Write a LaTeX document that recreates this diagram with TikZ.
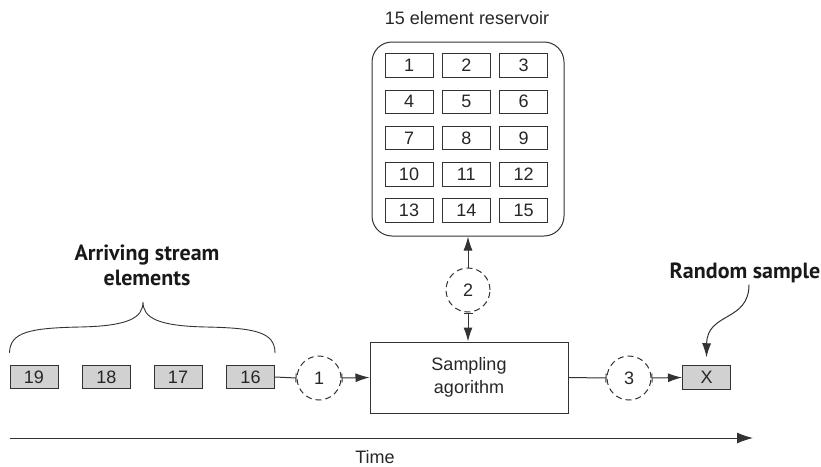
\documentclass[tikz,border=0pt]{standalone}
\usepackage{fontspec}
\setmainfont{Liberation Sans}
\newfontfamily\labelfont{PT Sans}
\usetikzlibrary{arrows.meta}
\begin{document}
\begin{tikzpicture}[x=1pt,y=-1pt,
  every node/.style={font=\fontsize{18}{23}\selectfont, text=black!85},
  cell/.style={draw=black!80, line width=1pt, minimum width=48pt, minimum height=23.5pt, inner sep=0pt},
  gcell/.style={cell, fill=black!18},
  numcircle/.style={draw=black!80, line width=1pt, dash pattern=on 6pt off 4pt, circle, minimum size=44pt, inner sep=0pt},
  conn/.style={draw=black!80, line width=1pt},
  tobar/.style={conn, -{Bar[width=9pt]}},
  arr/.style={conn, -{Latex[length=14pt,width=9pt]}},
  bigarr/.style={conn, -{Latex[length=16pt,width=11pt]}},
  bararr/.style={conn, {Bar[width=9pt]}-{Latex[length=14pt,width=9pt]}},
  boldlabel/.style={font=\labelfont\bfseries\fontsize{22}{25}\selectfont, text=black!90, align=center}
]
\useasboundingbox (0,0) rectangle (821,466);

% reservoir
\node (title) at (467,18) {15 element reservoir};
\node[draw=black!80, line width=1pt, rounded corners=20pt, minimum width=192pt, minimum height=194pt, inner sep=0pt] (res) at (468,139) {};
\foreach \r in {0,...,4}{
  \foreach \c in {0,1,2}{
    \pgfmathtruncatemacro{\n}{3*\r+\c+1}
    \node[cell] (r\n) at (409+57.3*\c, 65.5+36.3*\r) {\n};
  }
}

% stream elements
\node[gcell] (s19) at (34,377) {19};
\node[gcell] (s18) at (106.5,377) {18};
\node[gcell] (s17) at (178,377) {17};
\node[gcell] (s16) at (250.5,377) {16};
\node[boldlabel] (arriving) at (147,265) {Arriving stream\\elements};
\draw[line width=0.9pt, draw=black!80]
  (s19.north west) ++(0,-12) .. controls (10,332) and (30,328) .. (80,327)
  .. controls (128,326) and (143,318) .. (143,302)
  .. controls (143,318) and (158,326) .. (206,327)
  .. controls (255,328) and (275,332) .. (275,353);

% circles and algorithm
\node[numcircle] (c1) at (319,378) {1};
\node[draw=black!80, line width=1pt, minimum width=198pt, minimum height=71pt, inner sep=0pt, align=center] (samp) at (469,377.5) {Sampling\\agorithm};
\node[numcircle] (c2) at (468,290) {2};
\node[numcircle] (c3) at (629,378) {3};
\node[gcell] (xb) at (706.5,377.5) {X};
\node[boldlabel] (rs) at (745,273) {Random sample};

\draw[tobar] (s16.east) -- (c1.west);
\draw[bararr] (c1.east) -- (samp.west);
\draw[arr] (c2.north) -- (res.south);
\draw[bararr] (c2.south) -- (c2.south |- samp.north);
\draw[tobar] (samp.east) -- (c3.west);
\draw[bararr] (c3.east) -- (xb.west);
\draw[arr] ([xshift=4pt,yshift=2pt]rs.south) .. controls (749,322) and (707,312) .. ([yshift=8pt]xb.north);

% time axis
\coordinate (t0) at (10,438);
\coordinate (t1) at (753,438);
\draw[bigarr] (t0) -- (t1);
\node[inner sep=1pt] (time) at (375,457) {Time};
\end{tikzpicture}
\end{document}
